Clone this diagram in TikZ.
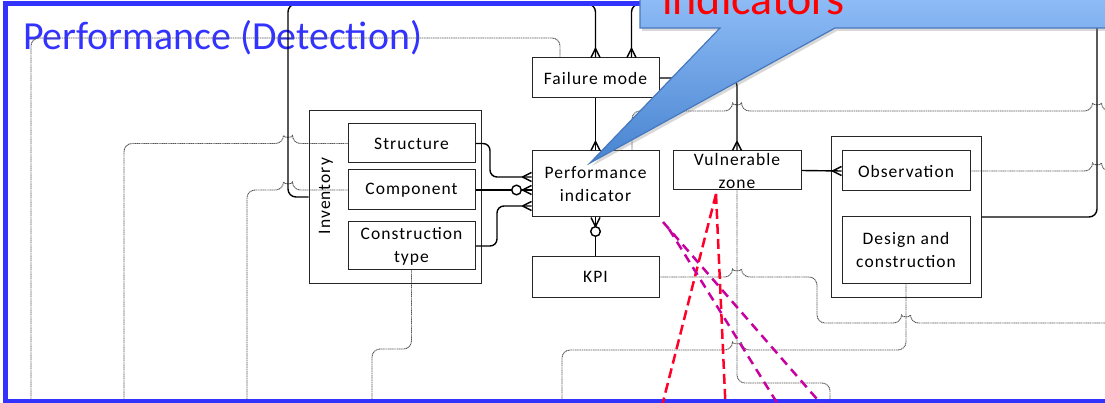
\documentclass[tikz,border=0pt]{standalone}
\usepackage{fontspec}
\setmainfont{Carlito}
\newfontfamily\boxfont[LetterSpace=6]{Carlito}
\usetikzlibrary{calc,shadows,backgrounds}
\definecolor{frameblue}{RGB}{51,51,255}
\definecolor{calloutedge}{RGB}{70,120,190}
\definecolor{calltop}{RGB}{145,190,248}
\definecolor{callbot}{RGB}{72,132,208}
\definecolor{linkgray}{RGB}{85,85,85}
\definecolor{redline}{RGB}{255,0,40}
\definecolor{magline}{RGB}{200,0,160}
\newcommand\hopR[2]{-- (#1-4.5,#2) .. controls (#1-4.5,#2-5.5) and (#1+4.5,#2-5.5) .. (#1+4.5,#2)}
\newcommand\hopL[2]{-- (#1+4.5,#2) .. controls (#1+4.5,#2-5.5) and (#1-4.5,#2-5.5) .. (#1-4.5,#2)}
\begin{document}
\begin{tikzpicture}[x=1pt,y=-1pt,
  erbox/.style={draw=black!85, line width=1pt, fill=white, inner sep=0pt, align=center,
    font=\boxfont\fontsize{17.5}{23}\selectfont},
  ergroup/.style={draw=black!85, line width=1pt, inner sep=0pt},
  erline/.style={draw=black, line width=1.4pt},
  thinlink/.style={draw=linkgray, line width=0.9pt, dash pattern=on 1.2pt off 0.6pt, rounded corners=8pt},
  crow/.pic={\draw[erline] (-9,0) -- (0,-4.5) (-9,0) -- (0,4.5);},
  zeroring/.pic={\draw[erline, fill=white] (0,0) circle[radius=4.8pt];},
  dashred/.style={draw=redline, line width=2.5pt, dash pattern=on 10pt off 5pt},
  dashmag/.style={draw=magline, line width=2.5pt, dash pattern=on 9pt off 6pt}]
\clip (0,0) rectangle (1105,403);

% containers
\node[ergroup, minimum width=172pt, minimum height=172pt] (inv) at (395,197) {};
\node[ergroup, minimum width=150pt, minimum height=160pt] (rc) at (906,217) {};
\node[rotate=90, inner sep=0pt, font=\boxfont\fontsize{17.5}{23}\selectfont] (invlabel) at (326,196) {Inventory};

% boxes
\node[erbox, minimum width=127pt, minimum height=40pt] (fm) at (595.5,78) {Failure mode};
\node[erbox, minimum width=127pt, minimum height=66pt] (pi) at (595.5,184) {Performance\\indicator};
\node[erbox, minimum width=127pt, minimum height=40pt] (kpi) at (595.5,277) {KPI};
\node[erbox, minimum width=128pt, minimum height=39pt] (vz) at (737,170.5) {Vulnerable\\zone};
\node[erbox, minimum width=127pt, minimum height=39pt] (str) at (411.5,143.5) {Structure};
\node[erbox, minimum width=127pt, minimum height=40pt] (comp) at (411.5,190) {Component};
\node[erbox, minimum width=127pt, minimum height=48pt] (ct) at (411.5,246) {Construction\\type};
\node[erbox, minimum width=128pt, minimum height=40pt] (obs) at (906,171) {Observation};
\node[erbox, minimum width=128pt, minimum height=66pt] (dc) at (906,250) {Design and\\construction};

\begin{pgfonlayer}{background}
\fill[white] (0,0) rectangle (1105,403);
% title
\node[anchor=base west, text=frameblue, inner sep=0pt, font=\fontsize{39.8}{44}\selectfont] (title) at (23,50) {Performance (Detection)};
% thin grey links
\draw[thinlink] ($(fm.north)+(-35.5,0)$) -- (560,38) -- (31,38) -- (31,405);
\draw[thinlink] (str.west) \hopL{288}{143.5} -- (124,143.5) -- (124,405);
\draw[thinlink] (comp.west) \hopL{288}{190} -- (247,190) -- (247,405);
\draw[thinlink] (ct.south) -- (411.5,349) -- (372,349) -- (372,405);
\draw[thinlink] (obs.east) \hopR{1097}{171} -- (1107,171);
\draw[thinlink] ($(pi.north)+(36.5,0)$) -- (632,111) \hopR{737}{111} \hopR{1097}{111} -- (1107,111);
\draw[thinlink] (kpi.east) \hopR{737}{277} -- (817,277) -- (817,323) \hopR{906}{323} -- (1107,323);
\draw[thinlink] (dc.south) -- (906,350) \hopL{737}{350} -- (562,350) -- (562,405);
\draw[thinlink] (vz.south) -- (737,383) -- (830,383) -- (830,405);
\end{pgfonlayer}

% ER connectors
\draw[erline, rounded corners=7pt] (str.east) -- (490,143.5) -- (490,177) -- ($(pi.west)+(0,-7)$);
\pic at ($(pi.west)+(0,-7)$) {crow};
\draw[erline] (comp.east) -- (comp.east -| pi.west);
\pic at (comp.east -| pi.west) {crow};
\pic at ($(comp.east -| pi.west)+(-15,0)$) {zeroring};
\draw[erline, rounded corners=7pt] (ct.east) -- (497,246) -- (497,206) -- ($(pi.west)+(0,22)$);
\pic at ($(pi.west)+(0,22)$) {crow};
\draw[erline] (fm.south) -- (pi.north);
\pic[rotate=-90] at (pi.north) {crow};
\draw[erline] (kpi.north) -- (pi.south);
\pic[rotate=90] at (pi.south) {crow};
\pic at ($(pi.south)+(0,14)$) {zeroring};
\draw[erline, rounded corners=8pt] (inv.west) -- (288,197) -- (288,4) -- (595.5,4) -- (fm.north);
\pic[rotate=-90] at (fm.north) {crow};
\draw[erline, rounded corners=8pt] (rc.east) -- (1097,217) -- (1097,4) -- (631.5,4) -- ($(fm.north)+(36,0)$);
\pic[rotate=-90] at ($(fm.north)+(36,0)$) {crow};
\draw[erline, rounded corners=8pt] (fm.east) -| (vz.north);
\pic[rotate=-90] at (vz.north) {crow};
\draw[erline] (vz.east) -- (obs.west);
\pic at (obs.west) {crow};

% blue frame
\draw[frameblue, line width=5pt] (5.5,4) rectangle (1130,401.5);

% red and magenta dashed lines
\coordinate (rtop) at (716,194);
\coordinate (rl) at (662,406);
\coordinate (rr) at (725.5,406);
\draw[dashred] (rtop) -- (rl);
\draw[dashred] (rtop) -- (rr);
\coordinate (ma) at (663,222);
\coordinate (mae) at (823,406);
\coordinate (mb) at (669,229);
\coordinate (mbe) at (779,406);
\draw[dashmag] (ma) -- (mae);
\draw[dashmag] (mb) -- (mbe);

% callout
\path[draw=calloutedge, line width=1.2pt, top color=calltop, bottom color=callbot,
  drop shadow={opacity=0.3, shadow xshift=2pt, shadow yshift=-3pt}]
  (640,-10) -- (1115,-10) -- (1115,28) -- (835,28) -- (590,163) -- (720,28) -- (640,28) -- cycle;
\node[anchor=base west, text=red, inner sep=0pt, font=\fontsize{46}{50}\selectfont] (ind) at (662,15) {indicators};
\end{tikzpicture}
\end{document}
